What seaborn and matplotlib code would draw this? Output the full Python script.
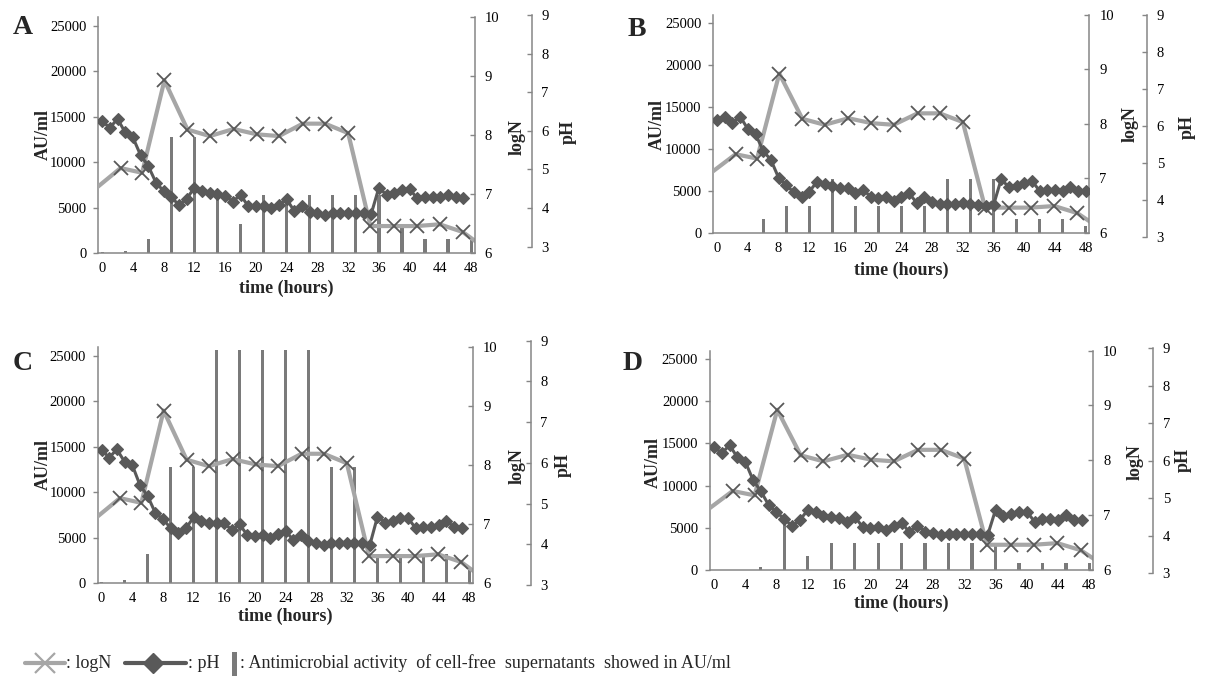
import matplotlib
matplotlib.use('Agg')
import matplotlib.pyplot as plt
from matplotlib.lines import Line2D
from matplotlib.patches import Rectangle
import seaborn as sns
import pandas as pd

# ---- data ----
bar_hours = [0, 3, 6, 9, 12, 15, 18, 21, 24, 27, 30, 33, 36, 39, 42, 45, 48]
ph_hours = list(range(49))

# logN (same culture curve in the four panels)
logn_hours = [-0.6, 2.4, 5.2, 8.1, 11.1, 14.0, 17.1, 20.1, 23.0, 26.1, 29.0,
              32.0, 34.9, 38.0, 40.9, 43.9, 46.9, 48.6]
logn = [7.12, 7.44, 7.36, 8.92, 8.09, 7.98, 8.10, 8.01, 7.98, 8.19, 8.19,
        8.03, 6.46, 6.46, 6.46, 6.49, 6.36, 6.20]

# antimicrobial activity (AU/ml)
au_a = [100, 200, 1600, 12800, 12800, 6400, 3200, 6400, 6400, 6400, 6400, 6400, 6400, 3200, 1600, 1600, 1600]
au_b = [0, 0, 1600, 3200, 3200, 6400, 3200, 3200, 3200, 3200, 6400, 6400, 6400, 1600, 1600, 1600, 800]
au_c = [100, 400, 3200, 12800, 12800, 25600, 25600, 25600, 25600, 25600, 12800, 12800, 3200, 3200, 3200, 3200, 1600]
au_d = [0, 0, 400, 6400, 1600, 3200, 3200, 3200, 3200, 3200, 3200, 3200, 3200, 800, 800, 800, 800]

# pH, hourly
ph_a = [6.25, 6.08, 6.31, 5.96, 5.83, 5.37, 5.09, 4.66, 4.44, 4.28,
        4.08, 4.24, 4.53, 4.44, 4.38, 4.36, 4.31, 4.17, 4.34, 4.05,
        4.05, 4.05, 3.99, 4.08, 4.23, 3.92, 4.05, 3.91, 3.86, 3.82,
        3.86, 3.86, 3.86, 3.86, 3.86, 3.85,
        4.53, 4.34, 4.40, 4.47, 4.49, 4.25, 4.29, 4.29, 4.28, 4.34, 4.29, 4.27]
ph_b = [6.17, 6.26, 6.08, 6.26, 5.92, 5.79, 5.33, 5.09, 4.61, 4.41,
        4.21, 4.10, 4.23, 4.50, 4.43, 4.38, 4.32, 4.32, 4.19, 4.28,
        4.10, 4.05, 4.10, 3.99, 4.10, 4.19, 3.93, 4.10, 3.96, 3.89,
        3.89, 3.89, 3.92, 3.89, 3.87, 3.84, 3.87, 4.57, 4.35, 4.38,
        4.46, 4.53, 4.25, 4.28, 4.28, 4.26, 4.35, 4.26, 4.25]
ph_c = [6.32, 6.13, 6.33, 6.03, 5.95, 5.46, 5.19, 4.78, 4.61, 4.41,
        4.27, 4.39, 4.66, 4.58, 4.53, 4.52, 4.52, 4.35, 4.49, 4.23,
        4.20, 4.23, 4.15, 4.25, 4.33, 4.11, 4.23, 4.09, 4.04, 3.98,
        4.02, 4.02, 4.02, 4.02, 4.02, 3.98,
        4.68, 4.53, 4.56, 4.64, 4.64, 4.39, 4.43, 4.43, 4.47, 4.56, 4.43, 4.39]
ph_d = [6.38, 6.20, 6.42, 6.09, 5.98, 5.49, 5.19, 4.82, 4.63, 4.45,
        4.26, 4.42, 4.69, 4.63, 4.54, 4.51, 4.48, 4.36, 4.51, 4.24,
        4.20, 4.23, 4.15, 4.27, 4.35, 4.09, 4.27, 4.11, 4.07, 4.02,
        4.04, 4.04, 4.04, 4.04, 4.04, 4.02,
        4.69, 4.54, 4.57, 4.64, 4.64, 4.38, 4.45, 4.45, 4.42, 4.55, 4.42, 4.42]

# ---- layout (pixels of the 1205x690 canvas) ----
W, H = 1205, 690
panels = [
    dict(letter='A', au=au_a, ph=ph_a, box=(98.3, 475.0, 16.5, 253.3), phbox=(15.0, 246.7, 531.7),
         letter_xy=(22.5, 28), au_xy=(43, 135), logn_xy=(517, 137), ph_xy=(568, 132), time_xy=(286.7, 288)),
    dict(letter='B', au=au_b, ph=ph_b, box=(713.3, 1089.5, 14.7, 232.7), phbox=(15.0, 237.3, 1147.0),
         letter_xy=(636.7, 29), au_xy=(657.5, 125), logn_xy=(1130, 124), ph_xy=(1187, 127), time_xy=(901.5, 270)),
    dict(letter='C', au=au_c, ph=ph_c, box=(97.7, 473.3, 346.7, 583.3), phbox=(340.7, 585.0, 530.7),
         letter_xy=(22.5, 363), au_xy=(43.3, 465), logn_xy=(517, 466), ph_xy=(563, 465), time_xy=(285.5, 616.7)),
    dict(letter='D', au=au_d, ph=ph_d, box=(710.0, 1093.3, 350.5, 570.0), phbox=(348.3, 573.3, 1153.0),
         letter_xy=(633, 364), au_xy=(653, 462), logn_xy=(1135, 462), ph_xy=(1183, 460), time_xy=(901.7, 603.3)),
]

SPINE = '#868686'
BAR = '#7a7a7a'
PH_COL = '#595959'
LOGN_COL = '#a6a6a6'

sns.set_style('white')
plt.rcParams['font.family'] = 'serif'
plt.rcParams['font.serif'] = ['Liberation Serif', 'DejaVu Serif']


def rect(l, r, t, b):
    return [l / W, 1 - b / H, (r - l) / W, (b - t) / H]


def ftext(x, y, s, **kw):
    fig.text(x / W, 1 - y / H, s, **kw)


def style_right(axis, offset_px=0):
    for side in ['left', 'top', 'bottom']:
        axis.spines[side].set_visible(False)
    axis.spines['right'].set_visible(True)
    axis.spines['right'].set_color(SPINE)
    axis.spines['right'].set_linewidth(1.1)
    if offset_px:
        axis.spines['right'].set_position(('outward', offset_px * 72 / 100))
    axis.yaxis.tick_right()
    axis.tick_params(axis='y', direction='in', length=3.5, width=1.0, color=SPINE,
                     labelsize=10.5, pad=7, labelcolor='black')
    axis.set_ylabel('')


fig = plt.figure(figsize=(W / 100, H / 100), dpi=100)

for p in panels:
    l, r, t, b = p['box']

    # bars: antimicrobial activity
    ax = fig.add_axes(rect(l, r, t, b))
    bars = pd.DataFrame({'time': bar_hours, 'au': p['au']})
    sns.barplot(data=bars, x='time', y='au', native_scale=True, width=0.14,
                color=BAR, saturation=1, errorbar=None, linewidth=0, ax=ax)
    ax.set_xlim(-0.5, 48.5)
    ax.set_ylim(0, 26000)
    ax.set_yticks(range(0, 25001, 5000))
    ax.set_xticks(range(0, 49, 4))
    ax.set_xlabel('')
    ax.set_ylabel('')
    for side in ['top', 'right']:
        ax.spines[side].set_visible(False)
    for side in ['left', 'bottom']:
        ax.spines[side].set_color(SPINE)
        ax.spines[side].set_linewidth(1.1)
    ax.tick_params(axis='both', direction='out', length=3.5, width=1.0, color=SPINE,
                   labelsize=10.5, labelcolor='black')
    ax.tick_params(axis='y', pad=5)
    ax.tick_params(axis='x', pad=3)
    ax.grid(False)

    # logN on the first secondary axis
    ax2 = ax.twinx()
    sns.lineplot(x=logn_hours, y=logn, ax=ax2, color=LOGN_COL, linewidth=3, sort=False,
                 marker='x', markersize=9.5, markeredgewidth=1.3, markeredgecolor=PH_COL,
                 markevery=list(range(1, len(logn) - 1)))
    ax2.set_ylim(6, 10)
    ax2.set_yticks([6, 7, 8, 9, 10])
    style_right(ax2)

    # pH on the second secondary axis
    pt, pb, px = p['phbox']
    ax3 = fig.add_axes(rect(l, r, pt, pb))
    ax3.patch.set_visible(False)
    sns.lineplot(x=ph_hours[:len(p['ph'])], y=p['ph'], ax=ax3, color=PH_COL, linewidth=2.2,
                 marker='D', markersize=6, markeredgewidth=0.8, markeredgecolor=PH_COL)
    ax3.set_xlim(-0.5, 48.5)
    ax3.set_ylim(3, 9)
    ax3.set_yticks(range(3, 10))
    ax3.xaxis.set_visible(False)
    style_right(ax3, px - r)

    # texts
    ftext(*p['letter_xy'], p['letter'], fontsize=20, fontweight='bold', ha='center', va='center')
    ftext(*p['au_xy'], 'AU/ml', fontsize=13, fontweight='bold', rotation=90, ha='center', va='center')
    ftext(*p['logn_xy'], 'logN', fontsize=13, fontweight='bold', rotation=90, ha='center', va='center')
    ftext(*p['ph_xy'], 'pH', fontsize=13, fontweight='bold', rotation=90, ha='center', va='center')
    ftext(*p['time_xy'], 'time (hours)', fontsize=13, fontweight='bold', ha='center', va='center')

# ---- legend at the bottom ----
ly = 1 - 663 / H
fig.add_artist(Line2D([25 / W, 65 / W], [ly, ly], transform=fig.transFigure,
                      color=LOGN_COL, linewidth=3))
fig.add_artist(Line2D([45 / W], [ly], transform=fig.transFigure, color=LOGN_COL,
                      marker='x', markersize=15, markeredgewidth=1.6, linestyle='none'))
ftext(66, 663, ': logN', fontsize=13, ha='left', va='center')

fig.add_artist(Line2D([125 / W, 186 / W], [ly, ly], transform=fig.transFigure,
                      color=PH_COL, linewidth=3))
fig.add_artist(Line2D([153 / W], [ly], transform=fig.transFigure, color=PH_COL,
                      marker='D', markersize=10, linestyle='none'))
ftext(188, 663, ': pH', fontsize=13, ha='left', va='center')

fig.add_artist(Rectangle((232 / W, 1 - 676 / H), 5 / W, 24 / H, transform=fig.transFigure,
                         color=BAR, linewidth=0))
ftext(240, 663, ': Antimicrobial activity  of cell-free  supernatants  showed in AU/ml',
      fontsize=13, ha='left', va='center')

fig.savefig('out.png', dpi=100)
